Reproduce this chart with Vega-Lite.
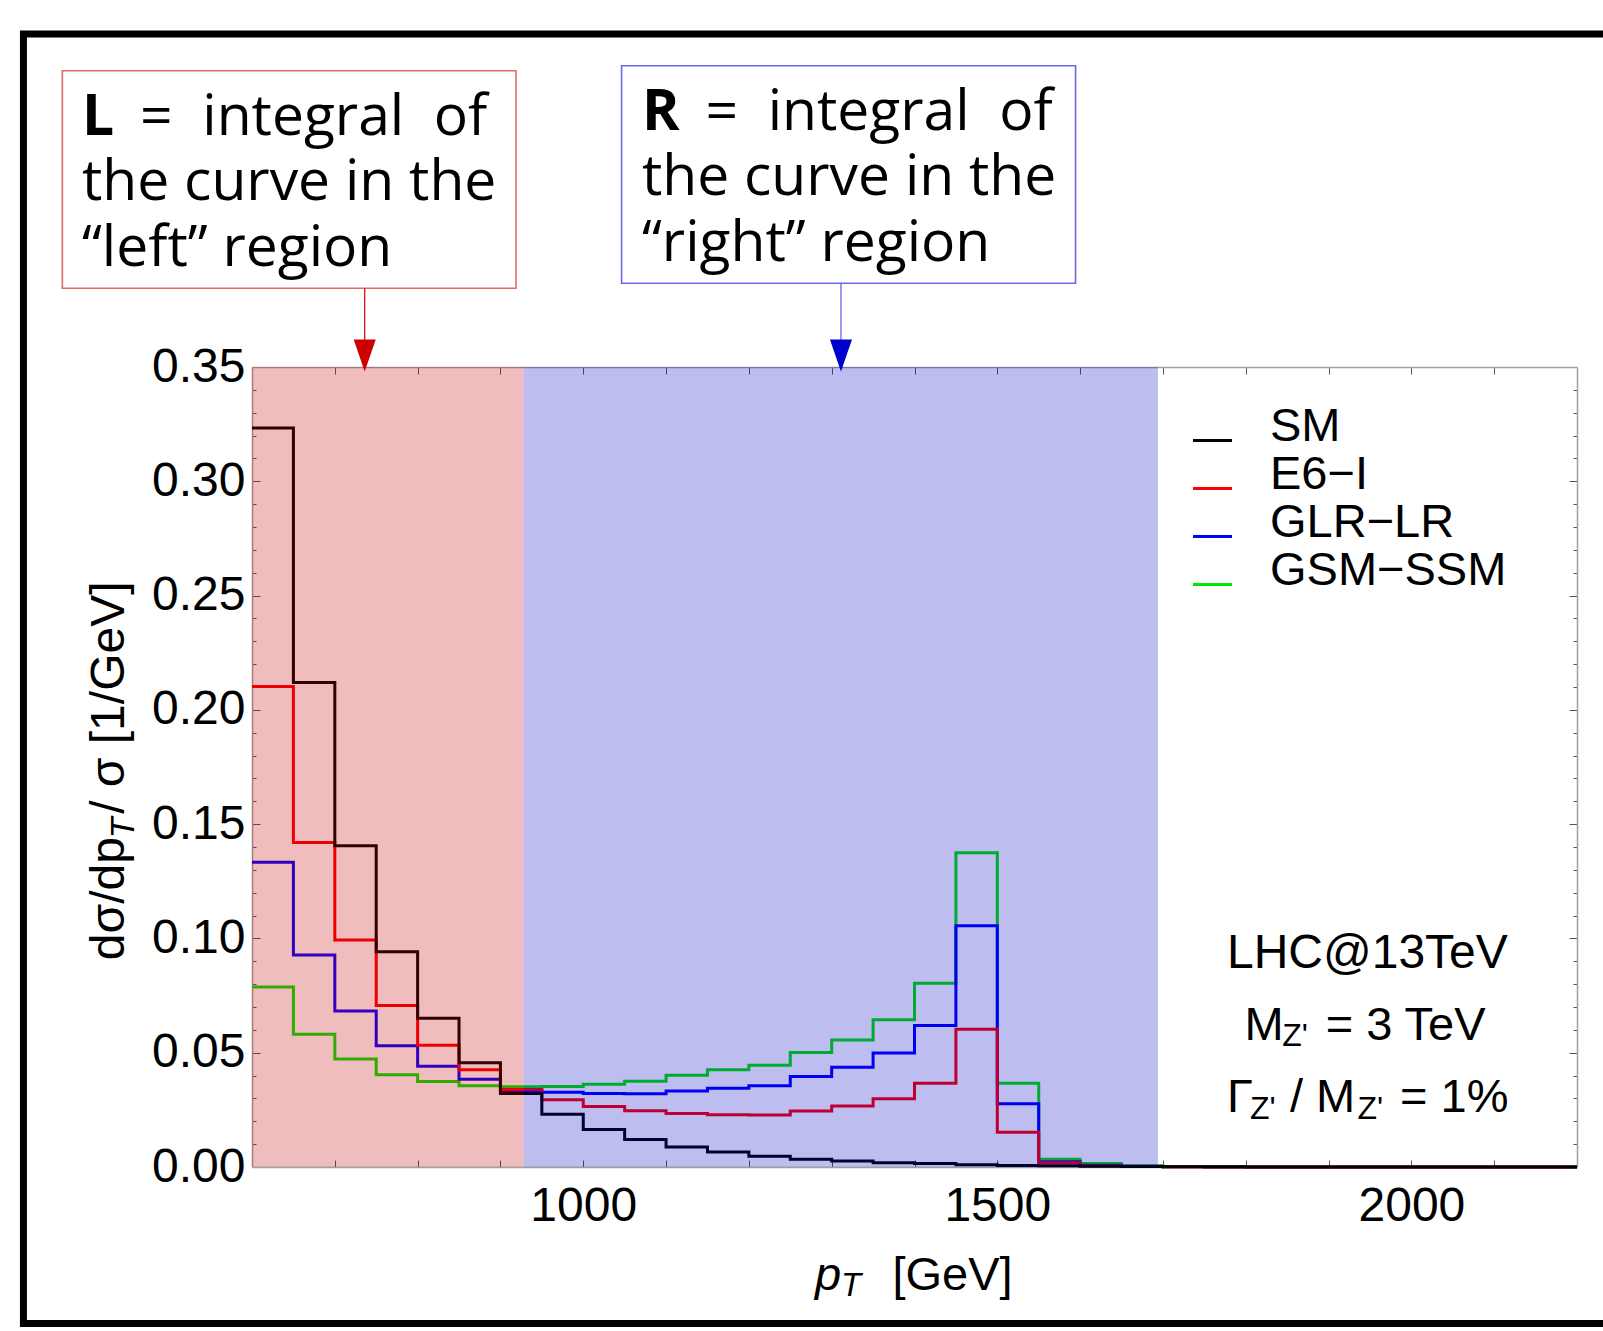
{
  "$schema": "https://vega.github.io/schema/vega-lite/v6.json",
  "width": 1325,
  "height": 800,
  "autosize": {"type": "none"},
  "padding": {"left": 252, "top": 367, "right": 26, "bottom": 164},
  "background": "white",
  "config": {
    "view": {"stroke": null},
    "axis": {"grid": false, "labelFont": "Liberation Sans", "labelFontSize": 48, "labelColor": "#000"}
  },
  "datasets": {
    "hist": [
      {"m": "GSM−SSM", "pt": 600, "v": 0.0788}, {"m": "GSM−SSM", "pt": 650, "v": 0.0581}, {"m": "GSM−SSM", "pt": 700, "v": 0.0472}, {"m": "GSM−SSM", "pt": 750, "v": 0.0404}, {"m": "GSM−SSM", "pt": 800, "v": 0.0374}, {"m": "GSM−SSM", "pt": 850, "v": 0.0355}, {"m": "GSM−SSM", "pt": 900, "v": 0.0351}, {"m": "GSM−SSM", "pt": 950, "v": 0.0352}, {"m": "GSM−SSM", "pt": 1000, "v": 0.0362}, {"m": "GSM−SSM", "pt": 1050, "v": 0.0375}, {"m": "GSM−SSM", "pt": 1100, "v": 0.0401}, {"m": "GSM−SSM", "pt": 1150, "v": 0.0425}, {"m": "GSM−SSM", "pt": 1200, "v": 0.0445}, {"m": "GSM−SSM", "pt": 1250, "v": 0.0501}, {"m": "GSM−SSM", "pt": 1300, "v": 0.0556}, {"m": "GSM−SSM", "pt": 1350, "v": 0.0644}, {"m": "GSM−SSM", "pt": 1400, "v": 0.0804}, {"m": "GSM−SSM", "pt": 1450, "v": 0.1375}, {"m": "GSM−SSM", "pt": 1500, "v": 0.0366}, {"m": "GSM−SSM", "pt": 1550, "v": 0.0034}, {"m": "GSM−SSM", "pt": 1600, "v": 0.0015}, {"m": "GSM−SSM", "pt": 1650, "v": 0.0005}, {"m": "GSM−SSM", "pt": 1700, "v": 0.0002}, {"m": "GSM−SSM", "pt": 1750, "v": 0.0001}, {"m": "GSM−SSM", "pt": 1800, "v": 0}, {"m": "GSM−SSM", "pt": 2200, "v": 0},
      {"m": "GLR−LR", "pt": 600, "v": 0.1333}, {"m": "GLR−LR", "pt": 650, "v": 0.0928}, {"m": "GLR−LR", "pt": 700, "v": 0.0683}, {"m": "GLR−LR", "pt": 750, "v": 0.053}, {"m": "GLR−LR", "pt": 800, "v": 0.0441}, {"m": "GLR−LR", "pt": 850, "v": 0.0384}, {"m": "GLR−LR", "pt": 900, "v": 0.0335}, {"m": "GLR−LR", "pt": 950, "v": 0.0327}, {"m": "GLR−LR", "pt": 1000, "v": 0.0322}, {"m": "GLR−LR", "pt": 1050, "v": 0.0321}, {"m": "GLR−LR", "pt": 1100, "v": 0.0333}, {"m": "GLR−LR", "pt": 1150, "v": 0.0345}, {"m": "GLR−LR", "pt": 1200, "v": 0.0356}, {"m": "GLR−LR", "pt": 1250, "v": 0.0396}, {"m": "GLR−LR", "pt": 1300, "v": 0.0436}, {"m": "GLR−LR", "pt": 1350, "v": 0.0499}, {"m": "GLR−LR", "pt": 1400, "v": 0.0619}, {"m": "GLR−LR", "pt": 1450, "v": 0.1055}, {"m": "GLR−LR", "pt": 1500, "v": 0.0277}, {"m": "GLR−LR", "pt": 1550, "v": 0.0023}, {"m": "GLR−LR", "pt": 1600, "v": 0.0008}, {"m": "GLR−LR", "pt": 1650, "v": 0.0003}, {"m": "GLR−LR", "pt": 1700, "v": 0.0001}, {"m": "GLR−LR", "pt": 1750, "v": 0}, {"m": "GLR−LR", "pt": 2200, "v": 0},
      {"m": "E6−I", "pt": 600, "v": 0.2102}, {"m": "E6−I", "pt": 650, "v": 0.142}, {"m": "E6−I", "pt": 700, "v": 0.0993}, {"m": "E6−I", "pt": 750, "v": 0.0707}, {"m": "E6−I", "pt": 800, "v": 0.0533}, {"m": "E6−I", "pt": 850, "v": 0.0425}, {"m": "E6−I", "pt": 900, "v": 0.0339}, {"m": "E6−I", "pt": 950, "v": 0.0294}, {"m": "E6−I", "pt": 1000, "v": 0.0265}, {"m": "E6−I", "pt": 1050, "v": 0.0246}, {"m": "E6−I", "pt": 1100, "v": 0.0234}, {"m": "E6−I", "pt": 1150, "v": 0.0229}, {"m": "E6−I", "pt": 1200, "v": 0.0228}, {"m": "E6−I", "pt": 1250, "v": 0.0245}, {"m": "E6−I", "pt": 1300, "v": 0.0267}, {"m": "E6−I", "pt": 1350, "v": 0.0299}, {"m": "E6−I", "pt": 1400, "v": 0.0366}, {"m": "E6−I", "pt": 1450, "v": 0.0603}, {"m": "E6−I", "pt": 1500, "v": 0.0152}, {"m": "E6−I", "pt": 1550, "v": 0.0019}, {"m": "E6−I", "pt": 1600, "v": 0.0006}, {"m": "E6−I", "pt": 1650, "v": 0.0002}, {"m": "E6−I", "pt": 1700, "v": 0.0001}, {"m": "E6−I", "pt": 1750, "v": 0}, {"m": "E6−I", "pt": 2200, "v": 0},
      {"m": "SM", "pt": 600, "v": 0.3233}, {"m": "SM", "pt": 650, "v": 0.212}, {"m": "SM", "pt": 700, "v": 0.1405}, {"m": "SM", "pt": 750, "v": 0.0942}, {"m": "SM", "pt": 800, "v": 0.0651}, {"m": "SM", "pt": 850, "v": 0.0456}, {"m": "SM", "pt": 900, "v": 0.0322}, {"m": "SM", "pt": 950, "v": 0.0231}, {"m": "SM", "pt": 1000, "v": 0.0164}, {"m": "SM", "pt": 1050, "v": 0.012}, {"m": "SM", "pt": 1100, "v": 0.0087}, {"m": "SM", "pt": 1150, "v": 0.0066}, {"m": "SM", "pt": 1200, "v": 0.0047}, {"m": "SM", "pt": 1250, "v": 0.0034}, {"m": "SM", "pt": 1300, "v": 0.0026}, {"m": "SM", "pt": 1350, "v": 0.0019}, {"m": "SM", "pt": 1400, "v": 0.0015}, {"m": "SM", "pt": 1450, "v": 0.001}, {"m": "SM", "pt": 1500, "v": 0.0007}, {"m": "SM", "pt": 1550, "v": 0.0005}, {"m": "SM", "pt": 1600, "v": 0.0003}, {"m": "SM", "pt": 1650, "v": 0.0002}, {"m": "SM", "pt": 1700, "v": 0.0001}, {"m": "SM", "pt": 1750, "v": 0.0001}, {"m": "SM", "pt": 1800, "v": 0}, {"m": "SM", "pt": 2200, "v": 0}
    ],
    "regions": [
      {"region": "left", "start": 600, "end": 928},
      {"region": "right", "start": 928, "end": 1694}
    ]
  },
  "resolve": {"axis": {"x": "independent", "y": "independent"}},
  "layer": [
    {
      "data": {"values": [{}]},
      "mark": {"type": "rect", "fill": "transparent", "stroke": "#000000", "strokeWidth": 7},
      "encoding": {
        "x": {"datum": 324, "type": "quantitative", "scale": {"domain": [600, 2200], "nice": false, "zero": false},
              "axis": {"orient": "top", "title": null, "values": [700, 800, 900, 1000, 1100, 1200, 1300, 1400, 1500, 1600, 1700, 1800, 1900, 2000, 2100], "labels": false, "tickSize": -7, "tickColor": "#555555", "tickWidth": 1, "domainColor": "#a0a0a0", "domainWidth": 1.5}},
        "x2": {"datum": 2276},
        "y": {"datum": -0.0685, "type": "quantitative", "scale": {"domain": [0, 0.35], "nice": false, "zero": false},
              "axis": {"orient": "right", "title": null, "values": [0.01, 0.02, 0.03, 0.04, 0.05, 0.06, 0.07, 0.08, 0.09, 0.1, 0.11, 0.12, 0.13, 0.14, 0.15, 0.16, 0.17, 0.18, 0.19, 0.2, 0.21, 0.22, 0.23, 0.24, 0.25, 0.26, 0.27, 0.28, 0.29, 0.3, 0.31, 0.32, 0.33, 0.34], "labels": false,
                       "tickSize": {"condition": {"test": "abs(datum.value*20 - round(datum.value*20)) < 0.001", "value": -8}, "value": -4},
                       "tickColor": "#555555", "tickWidth": 1, "domainColor": "#a0a0a0", "domainWidth": 1.5}},
        "y2": {"datum": 0.4957}
      }
    },
    {
      "data": {"name": "hist"},
      "mark": {"type": "line", "interpolate": "step-after", "strokeWidth": 3},
      "encoding": {
        "x": {"field": "pt", "type": "quantitative", "scale": {"domain": [600, 2200], "nice": false, "zero": false},
              "axis": {"orient": "bottom", "title": null, "values": [1000, 1500, 2000], "format": "d", "ticks": false, "domain": false, "labelPadding": 15, "labelFlush": false}},
        "y": {"field": "v", "type": "quantitative", "scale": {"domain": [0, 0.35], "nice": false, "zero": false},
              "axis": {"orient": "left", "title": null, "values": [0, 0.05, 0.1, 0.15, 0.2, 0.25, 0.3, 0.35], "format": ".2f", "ticks": false, "domain": false, "labelPadding": 7}},
        "color": {"field": "m", "type": "nominal",
                  "scale": {"domain": ["SM", "E6−I", "GLR−LR", "GSM−SSM"], "range": ["#000000", "#ff0000", "#0000ff", "#00e600"]},
                  "legend": {"orient": "none", "legendX": 937, "legendY": 50, "title": null, "symbolType": "stroke", "symbolSize": 1521, "symbolStrokeWidth": 3, "labelFont": "Liberation Sans", "labelFontSize": 47, "labelColor": "#000000", "labelOffset": 34, "labelLimit": 500, "labelBaseline": "alphabetic", "rowPadding": 0, "padding": 0}}
      }
    },
    {
      "data": {"name": "regions"},
      "mark": {"type": "rect", "fillOpacity": 0.26},
      "encoding": {
        "x": {"field": "start", "type": "quantitative", "scale": {"domain": [600, 2200], "nice": false, "zero": false},
              "axis": {"orient": "bottom", "title": null, "values": [700, 800, 900, 1000, 1100, 1200, 1300, 1400, 1500, 1600, 1700, 1800, 1900, 2000, 2100], "labels": false, "tickSize": -7, "tickColor": "#555555", "tickWidth": 1, "domainColor": "#a0a0a0", "domainWidth": 1.5}},
        "x2": {"field": "end"},
        "y": {"datum": 0, "type": "quantitative", "scale": {"domain": [0, 0.35], "nice": false, "zero": false},
              "axis": {"orient": "left", "title": null, "values": [0.01, 0.02, 0.03, 0.04, 0.05, 0.06, 0.07, 0.08, 0.09, 0.1, 0.11, 0.12, 0.13, 0.14, 0.15, 0.16, 0.17, 0.18, 0.19, 0.2, 0.21, 0.22, 0.23, 0.24, 0.25, 0.26, 0.27, 0.28, 0.29, 0.3, 0.31, 0.32, 0.33, 0.34], "labels": false,
                       "tickSize": {"condition": {"test": "abs(datum.value*20 - round(datum.value*20)) < 0.001", "value": -8}, "value": -4},
                       "tickColor": "#555555", "tickWidth": 1, "domainColor": "#a0a0a0", "domainWidth": 1.5}},
        "y2": {"datum": 0.35},
        "fill": {"field": "region", "type": "nominal", "scale": {"domain": ["left", "right"], "range": ["#c10000", "#0000c5"]}, "legend": null}
      }
    },
    {
      "data": {"values": [{}]},
      "mark": {"type": "rect", "fill": "#ffffff", "stroke": "#e06a6a", "strokeWidth": 1.6},
      "encoding": {"x": {"datum": 371, "axis": null}, "x2": {"datum": 918.8}, "y": {"datum": 0.38443, "axis": null}, "y2": {"datum": 0.47963}}
    },
    {
      "data": {"values": [{}]},
      "mark": {"type": "rect", "fill": "#ffffff", "stroke": "#6a6ae6", "strokeWidth": 1.6},
      "encoding": {"x": {"datum": 1046.3, "axis": null}, "x2": {"datum": 1594.5}, "y": {"datum": 0.38662, "axis": null}, "y2": {"datum": 0.48182}}
    },
    {
      "data": {"values": [{}]},
      "mark": {"type": "rule", "stroke": "#cc0000", "strokeWidth": 1.2},
      "encoding": {"x": {"datum": 736.1, "axis": null}, "y": {"datum": 0.38443, "axis": null}, "y2": {"datum": 0.3618}}
    },
    {
      "data": {"values": [{}]},
      "mark": {"type": "rule", "stroke": "#5a5ae0", "strokeWidth": 1.2},
      "encoding": {"x": {"datum": 1311.2, "axis": null}, "y": {"datum": 0.38662, "axis": null}, "y2": {"datum": 0.3618}}
    },
    {
      "data": {"values": [{}]},
      "mark": {"type": "point", "shape": "M-0.69,-1L0.69,-1L0,1Z", "filled": true, "size": 1024, "color": "#cc0000", "opacity": 1},
      "encoding": {"x": {"datum": 736.1, "axis": null}, "y": {"datum": 0.355, "axis": null}}
    },
    {
      "data": {"values": [{}]},
      "mark": {"type": "point", "shape": "M-0.69,-1L0.69,-1L0,1Z", "filled": true, "size": 1024, "color": "#0000cc", "opacity": 1},
      "encoding": {"x": {"datum": 1311.2, "axis": null}, "y": {"datum": 0.355, "axis": null}}
    },
    {
      "data": {"values": [{}]},
      "mark": {"type": "text", "text": "L", "font": "Open Sans", "fontWeight": "bold", "fontSize": 57, "align": "left", "baseline": "alphabetic", "color": "#000000"},
      "encoding": {"x": {"datum": 394.7, "axis": null}, "y": {"datum": 0.4515, "axis": null}}
    },
    {
      "data": {"values": [{}]},
      "mark": {"type": "text", "text": "=\u00a0\u00a0integral\u00a0\u00a0of", "font": "Open Sans", "fontSize": 57, "align": "left", "baseline": "alphabetic", "color": "#000000"},
      "encoding": {"x": {"datum": 464.8, "axis": null}, "y": {"datum": 0.4515, "axis": null}}
    },
    {
      "data": {"values": [{}]},
      "mark": {"type": "text", "text": ["the curve in the", "“left” region"], "lineHeight": 65.7, "font": "Open Sans", "fontSize": 57, "align": "left", "baseline": "alphabetic", "color": "#000000"},
      "encoding": {"x": {"datum": 394.7, "axis": null}, "y": {"datum": 0.42306, "axis": null}}
    },
    {
      "data": {"values": [{}]},
      "mark": {"type": "text", "text": "R", "font": "Open Sans", "fontWeight": "bold", "fontSize": 57, "align": "left", "baseline": "alphabetic", "color": "#000000"},
      "encoding": {"x": {"datum": 1070.9, "axis": null}, "y": {"datum": 0.45369, "axis": null}}
    },
    {
      "data": {"values": [{}]},
      "mark": {"type": "text", "text": "=\u00a0\u00a0integral\u00a0\u00a0of", "font": "Open Sans", "fontSize": 57, "align": "left", "baseline": "alphabetic", "color": "#000000"},
      "encoding": {"x": {"datum": 1147.6, "axis": null}, "y": {"datum": 0.45369, "axis": null}}
    },
    {
      "data": {"values": [{}]},
      "mark": {"type": "text", "text": ["the curve in the", "“right” region"], "lineHeight": 65.7, "font": "Open Sans", "fontSize": 57, "align": "left", "baseline": "alphabetic", "color": "#000000"},
      "encoding": {"x": {"datum": 1070.9, "axis": null}, "y": {"datum": 0.42525, "axis": null}}
    },
    {
      "data": {"values": [{}]},
      "mark": {"type": "text", "text": "dσ/dp", "font": "Liberation Sans", "fontSize": 48, "angle": 270, "align": "left", "baseline": "alphabetic", "color": "#000000"},
      "encoding": {"x": {"datum": 445, "axis": null}, "y": {"datum": 0.0905, "axis": null}}
    },
    {
      "data": {"values": [{}]},
      "mark": {"type": "text", "text": "T", "font": "Liberation Sans", "fontStyle": "italic", "fontSize": 34, "angle": 270, "align": "left", "baseline": "alphabetic", "color": "#000000"},
      "encoding": {"x": {"datum": 458, "axis": null}, "y": {"datum": 0.1438, "axis": null}}
    },
    {
      "data": {"values": [{}]},
      "mark": {"type": "text", "text": "\u00a0/\u00a0σ\u00a0[1/GeV]", "font": "Liberation Sans", "fontSize": 48, "angle": 270, "align": "left", "baseline": "alphabetic", "color": "#000000"},
      "encoding": {"x": {"datum": 445, "axis": null}, "y": {"datum": 0.1545, "axis": null}}
    },
    {
      "data": {"values": [{}]},
      "mark": {"type": "text", "text": "p", "font": "Liberation Sans", "fontStyle": "italic", "fontSize": 47, "align": "left", "baseline": "alphabetic", "color": "#000000"},
      "encoding": {"x": {"datum": 1279.8, "axis": null}, "y": {"datum": -0.05381, "axis": null}}
    },
    {
      "data": {"values": [{}]},
      "mark": {"type": "text", "text": "T", "font": "Liberation Sans", "fontStyle": "italic", "fontSize": 33, "align": "left", "baseline": "alphabetic", "color": "#000000"},
      "encoding": {"x": {"datum": 1311.2, "axis": null}, "y": {"datum": -0.05644, "axis": null}}
    },
    {
      "data": {"values": [{}]},
      "mark": {"type": "text", "text": "[GeV]", "font": "Liberation Sans", "fontSize": 47, "align": "left", "baseline": "alphabetic", "color": "#000000"},
      "encoding": {"x": {"datum": 1373.4, "axis": null}, "y": {"datum": -0.05381, "axis": null}}
    },
    {
      "data": {"values": [{}]},
      "mark": {"type": "text", "text": "LHC@13TeV", "font": "Liberation Sans", "fontSize": 48, "align": "center", "baseline": "alphabetic", "color": "#000000"},
      "encoding": {"x": {"datum": 1946.9, "axis": null}, "y": {"datum": 0.08728, "axis": null}}
    },
    {
      "data": {"values": [{}]},
      "mark": {"type": "text", "text": "M", "font": "Liberation Sans", "fontSize": 47, "align": "left", "baseline": "alphabetic", "color": "#000000"},
      "encoding": {"x": {"datum": 1798.5, "axis": null}, "y": {"datum": 0.05569, "axis": null}}
    },
    {
      "data": {"values": [{}]},
      "mark": {"type": "text", "text": "Z'", "font": "Liberation Sans", "fontSize": 32, "align": "left", "baseline": "alphabetic", "color": "#000000"},
      "encoding": {"x": {"datum": 1844.0, "axis": null}, "y": {"datum": 0.05294, "axis": null}}
    },
    {
      "data": {"values": [{}]},
      "mark": {"type": "text", "text": "= 3 TeV", "font": "Liberation Sans", "fontSize": 47, "align": "left", "baseline": "alphabetic", "color": "#000000"},
      "encoding": {"x": {"datum": 1896.5, "axis": null}, "y": {"datum": 0.05569, "axis": null}}
    },
    {
      "data": {"values": [{}]},
      "mark": {"type": "text", "text": "Γ", "font": "Liberation Sans", "fontSize": 47, "align": "left", "baseline": "alphabetic", "color": "#000000"},
      "encoding": {"x": {"datum": 1777.5, "axis": null}, "y": {"datum": 0.02393, "axis": null}}
    },
    {
      "data": {"values": [{}]},
      "mark": {"type": "text", "text": "Z'", "font": "Liberation Sans", "fontSize": 32, "align": "left", "baseline": "alphabetic", "color": "#000000"},
      "encoding": {"x": {"datum": 1805.1, "axis": null}, "y": {"datum": 0.02118, "axis": null}}
    },
    {
      "data": {"values": [{}]},
      "mark": {"type": "text", "text": "/ M", "font": "Liberation Sans", "fontSize": 47, "align": "left", "baseline": "alphabetic", "color": "#000000"},
      "encoding": {"x": {"datum": 1853.4, "axis": null}, "y": {"datum": 0.02393, "axis": null}}
    },
    {
      "data": {"values": [{}]},
      "mark": {"type": "text", "text": "Z'", "font": "Liberation Sans", "fontSize": 32, "align": "left", "baseline": "alphabetic", "color": "#000000"},
      "encoding": {"x": {"datum": 1934.9, "axis": null}, "y": {"datum": 0.02118, "axis": null}}
    },
    {
      "data": {"values": [{}]},
      "mark": {"type": "text", "text": "= 1%", "font": "Liberation Sans", "fontSize": 47, "align": "left", "baseline": "alphabetic", "color": "#000000"},
      "encoding": {"x": {"datum": 1986.3, "axis": null}, "y": {"datum": 0.02393, "axis": null}}
    }
  ]
}
